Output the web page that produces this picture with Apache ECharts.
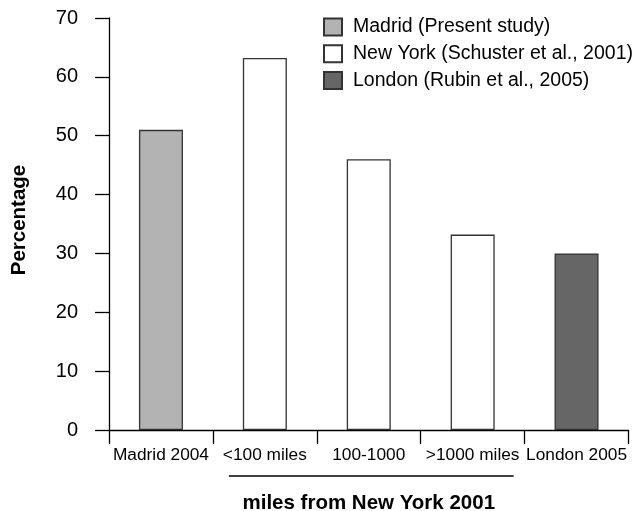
<!DOCTYPE html>
<html>
<head>
<meta charset="utf-8">
<script src="https://cdn.jsdelivr.net/npm/echarts@6/dist/echarts.min.js"></script>
<style>
html,body{margin:0;padding:0;background:#fff;}
#main{width:636px;height:511px;}
</style>
</head>
<body>
<div id="main"></div>
<script>
var categories = ['Madrid 2004', '<100 miles', '100-1000', '>1000 miles', 'London 2005'];
var madridValues = [51.0, '-', '-', '-', '-'];
var newYorkValues = ['-', 63.2, 46.0, 33.2, '-'];
var londonValues = ['-', '-', '-', '-', 30.0];
var seriesNames = ['Madrid (Present study)', 'New York (Schuster et al., 2001)', 'London (Rubin et al., 2005)'];
var yTicks = [0, 10, 20, 30, 40, 50, 60, 70];

var chart = echarts.init(document.getElementById('main'), null, {renderer: 'canvas'});
var border = {borderColor: '#333333', borderWidth: 1.3};
function mk(name, data, color) {
  return {
    name: name, type: 'bar', data: data, barWidth: 44, barGap: '-100%',
    itemStyle: Object.assign({color: color}, border),
    emphasis: {disabled: true}, animation: false
  };
}
var option = {
  animation: false,
  textStyle: {fontFamily: 'Liberation Sans'},
  grid: {left: 109, right: 7.5, top: 18, bottom: 81, containLabel: false, outerBoundsMode: 'none'},
  legend: {
    orient: 'vertical', left: 323, top: 17, padding: 0,
    itemWidth: 18, itemHeight: 17, itemGap: 6.8,
    icon: 'rect', selectedMode: false,
    textStyle: {fontFamily: 'Liberation Sans', fontSize: 19.5, color: '#000', padding: [0, 0, 0, 6]},
    data: seriesNames
  },
  xAxis: {
    type: 'category', data: categories,
    boundaryGap: true,
    axisLine: {lineStyle: {color: '#000', width: 1.3}},
    axisTick: {show: true, length: 14, interval: 0, alignWithLabel: false, lineStyle: {color: '#000', width: 1.3}},
    axisLabel: {interval: 0, margin: 17, fontFamily: 'Liberation Sans', fontSize: 17.3, color: '#000'},
    name: 'miles from New York 2001', nameLocation: 'middle', nameGap: 63,
    nameTextStyle: {fontFamily: 'Liberation Sans', fontWeight: 'bold', fontSize: 20.5, color: '#000'},
    splitLine: {show: false}
  },
  yAxis: {
    type: 'value', min: 0, max: 70, interval: 10,
    axisLine: {show: true, lineStyle: {color: '#000', width: 1.3}},
    axisTick: {show: true, length: 14, lineStyle: {color: '#000', width: 1.3}},
    axisLabel: {margin: 31, fontFamily: 'Liberation Sans', fontSize: 20, color: '#000'},
    splitLine: {show: false},
    name: 'Percentage', nameLocation: 'middle', nameGap: 79,
    nameTextStyle: {fontFamily: 'Liberation Sans', fontWeight: 'bold', fontSize: 20.5, color: '#000', padding: [0, 0, 0, 8]},
  },
  series: [
    mk(seriesNames[0], madridValues, '#b3b3b3'),
    mk(seriesNames[1], newYorkValues, '#ffffff'),
    mk(seriesNames[2], londonValues, '#666666')
  ]
};
chart.setOption(option);

// underline spanning the New York distance groups
var p1 = chart.convertToPixel({xAxisIndex: 0}, categories[1]);
var p3 = chart.convertToPixel({xAxisIndex: 0}, categories[3]);
var zeroY = chart.convertToPixel({yAxisIndex: 0}, 0);
chart.setOption({
  graphic: [{
    type: 'line', silent: true,
    shape: {x1: p1 - 36, y1: zeroY + 46, x2: p3 + 41, y2: zeroY + 46},
    style: {stroke: '#000', lineWidth: 1.3}
  }]
});
</script>
</body>
</html>
